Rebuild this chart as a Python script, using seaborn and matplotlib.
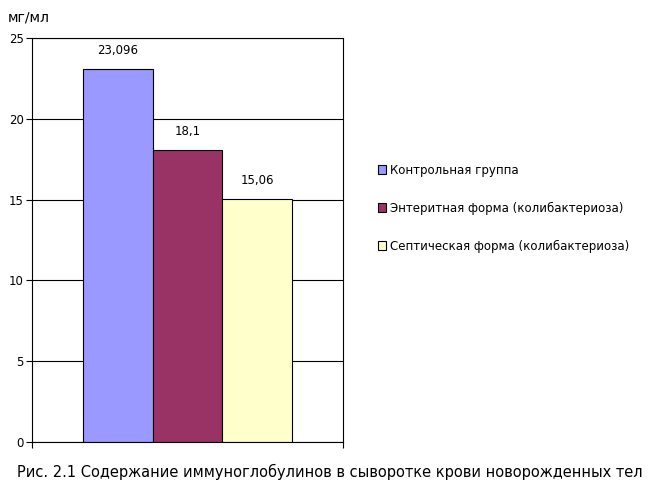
import pandas as pd
import matplotlib
matplotlib.use('Agg')
import matplotlib.pyplot as plt
import seaborn as sns

# data
groups = ['Контрольная группа', 'Энтеритная форма (колибактериоза)', 'Септическая форма (колибактериоза)']
values = [23.096, 18.1, 15.06]
value_labels = ['23,096', '18,1', '15,06']
colors = ['#9999FF', '#993366', '#FFFFCC']

df = pd.DataFrame({'cat': ['x'] * 3, 'group': groups, 'value': values})

sns.set_style('white')
plt.rcParams['font.family'] = ['DejaVu Sans']
plt.rcParams['text.color'] = 'black'
plt.rcParams['ytick.color'] = 'black'
plt.rcParams['ytick.labelcolor'] = 'black'

fig = plt.figure(figsize=(6.58, 4.97), dpi=100)
ax = fig.add_axes([0.0486, 0.1107, 0.4727, 0.8128])

sns.barplot(data=df, x='cat', y='value', hue='group', palette=colors, saturation=1,
            width=0.67, edgecolor='black', linewidth=0.8, ax=ax, legend=True)

ax.set_ylim(0, 25)
ax.set_xlim(-0.5, 0.5)
ax.set_yticks([0, 5, 10, 15, 20, 25])
ax.set_xticks([-0.5, 0.5])
ax.set_xticklabels(['', ''])
ax.set_xlabel('')
ax.set_ylabel('')
ax.yaxis.grid(True, color='black', linewidth=0.8)
ax.set_axisbelow(True)
for s in ax.spines.values():
    s.set_color('black')
    s.set_linewidth(0.8)
ax.tick_params(axis='y', length=4, width=0.8, color='black', labelsize=8.5, pad=2, left=True)
ax.tick_params(axis='x', length=4, width=0.8, color='black', bottom=True)

# value labels above bars
for bar, lab in zip(ax.patches, value_labels):
    ax.text(bar.get_x() + bar.get_width() / 2, bar.get_height() + 0.7, lab,
            ha='center', va='bottom', fontsize=8.5)

# legend outside on the right
handles, labels = ax.get_legend_handles_labels()
ax.get_legend().remove()
fig.legend(handles, labels, loc='upper left', bbox_to_anchor=(0.567, 0.68),
           frameon=False, fontsize=8.5, handlelength=0.7, handleheight=0.7,
           handletextpad=0.3, labelspacing=2.1, borderaxespad=0)

fig.text(0.012, 0.965, 'мг/мл', fontsize=10, va='center')
fig.text(0.026, 0.05, 'Рис. 2.1 Содержание иммуноглобулинов в сыворотке крови новорожденных тел',
         fontsize=10.5, va='center')

plt.savefig('out.png', dpi=100)
